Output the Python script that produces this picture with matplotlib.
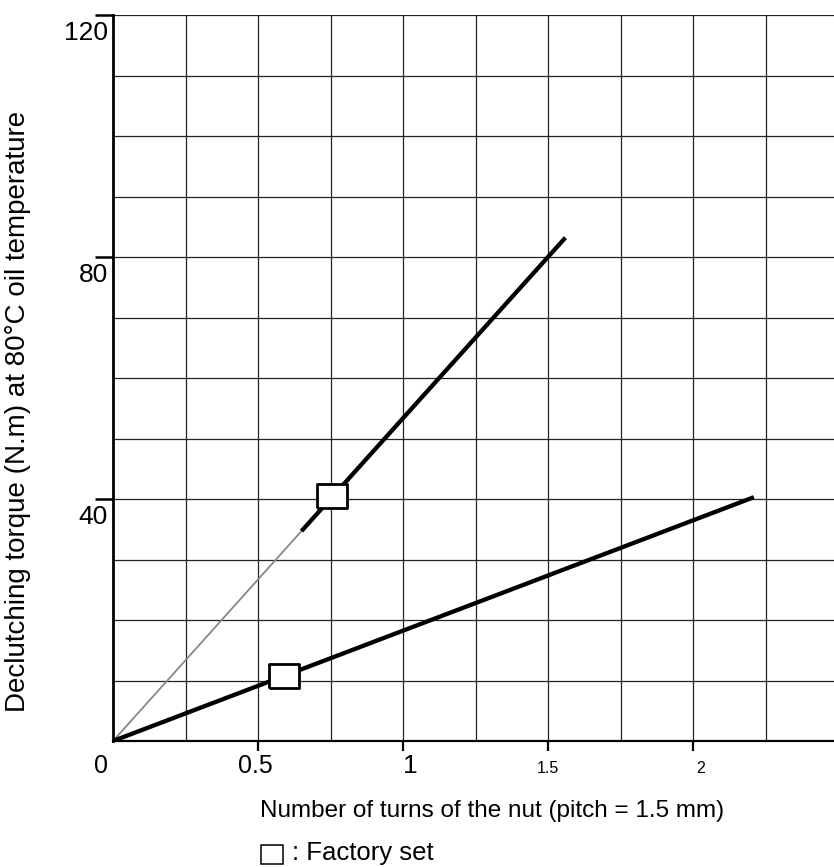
import matplotlib
matplotlib.use('Agg')
import matplotlib.pyplot as plt
from matplotlib.patches import Rectangle
import numpy as np

plt.rcParams['font.family'] = ['Liberation Sans', 'DejaVu Sans']

# steep curve: thin grey extrapolation, then thick measured part
steep_thin_x = [0, 0.65]
steep_thin_y = [0, 34.7]
steep_x = [0.65, 1.56]
steep_y = [34.7, 83.2]
# shallow curve
shallow_x = [0, 2.21]
shallow_y = [0, 40.3]
# factory set points
factory_x = [0.59, 0.755]
factory_y = [10.7, 40.5]

ytick_vals = [40, 80, 120]
xtick_vals = [0.5, 1, 1.5, 2]
xlab_vals = [0, 0.5, 1, 1.5, 2]
xlab_text = ['0', '0.5', '1', '1.5', '2']
xlab_sizes = [18, 18, 19, 11.5, 11.5]
xlab_dx = [-12, -3, 7, 0, 8]

W, H = 834, 867
fig = plt.figure(figsize=(W / 100, H / 100), dpi=100)
ax = fig.add_axes([113 / W, 1 - 741 / H, 1 - 113 / W, (741 - 15) / H])
ax.set_xlim(0, 721 / 290)
ax.set_ylim(0, 120)

# grid
for gx in np.arange(0.25, 2.3, 0.25):
    ax.axvline(gx, color='#222222', lw=0.9, zorder=1)
for gy in range(10, 121, 10):
    ax.axhline(gy, color='#222222', lw=0.9, zorder=1)

ax.plot(steep_thin_x, steep_thin_y, color='#888888', lw=1.3, zorder=2)
ax.plot(steep_x, steep_y, color='black', lw=3.1, zorder=3, solid_capstyle='butt')
ax.plot(shallow_x, shallow_y, color='black', lw=3.1, zorder=3, solid_capstyle='butt')

rect = [(-1.2, -1), (1.2, -1), (1.2, 1), (-1.2, 1), (-1.2, -1)]
ax.plot(factory_x, factory_y, linestyle='none', marker=rect, markersize=21.5,
        markerfacecolor='white', markeredgecolor='black', markeredgewidth=2.0, zorder=4)

for s in ['top', 'right']:
    ax.spines[s].set_visible(False)
ax.spines['left'].set_linewidth(2)
ax.spines['bottom'].set_linewidth(1.6)

ax.set_yticks(ytick_vals)
ax.set_yticklabels([])
ax.tick_params(axis='y', direction='out', length=13, width=1.8)
for v in ytick_vals:
    ax.annotate(str(v), xy=(0, v), xytext=(-5, -6), textcoords='offset pixels',
                ha='right', va='top', fontsize=19, annotation_clip=False)

ax.set_xticks(xtick_vals)
ax.set_xticklabels([])
ax.tick_params(axis='x', direction='out', length=7.5, width=1.6)
for v, t, fs, dx in zip(xlab_vals, xlab_text, xlab_sizes, xlab_dx):
    ax.annotate(t, xy=(v, 0), xytext=(dx, -32), textcoords='offset pixels',
                ha='center', va='baseline', fontsize=fs, annotation_clip=False)

fig.text(18 / W, 1 - 411 / H, 'Declutching torque (N.m) at 80°C oil temperature',
         rotation=90, fontsize=20, ha='center', va='center')
fig.text(260 / W, 1 - 817 / H, 'Number of turns of the nut (pitch = 1.5 mm)',
         fontsize=17.5, ha='left', va='baseline')
fig.add_artist(Rectangle((261 / W, 1 - 864 / H), 22 / W, 19 / H, transform=fig.transFigure,
                         facecolor='white', edgecolor='black', lw=1.1))
fig.text(292 / W, 1 - 860 / H, ': Factory set', fontsize=18.5, ha='left', va='baseline')

fig.savefig('out.png', dpi=100)
